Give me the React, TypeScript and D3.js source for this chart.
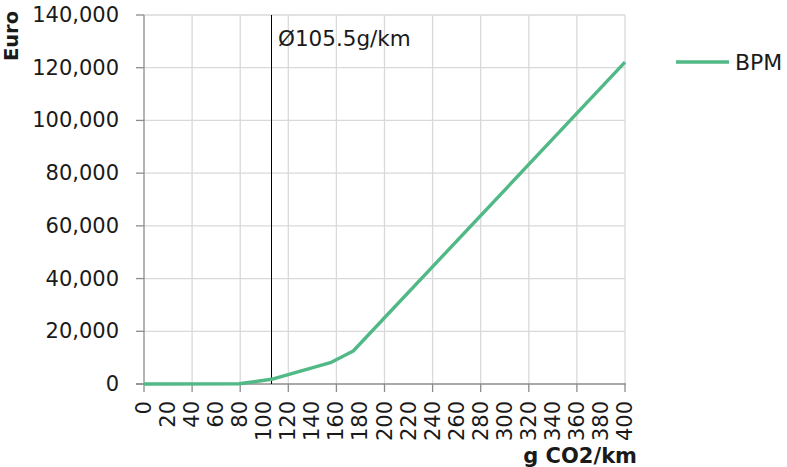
import React from "react";
import * as d3 from "d3";

const co2Values = [0, 79, 106, 155, 174, 400];
const bpmValues = [0, 79, 1780, 8100, 12510, 122100];
const xTickLabels = ["0","20","40","60","80","100","120","140","160","180","200","220","240","260","280","300","320","340","360","380","400"];
const xMajorTicks = [0, 40, 80, 120, 160, 200, 240, 280, 320, 360, 400];
const yTickValues = [0, 20000, 40000, 60000, 80000, 100000, 120000, 140000];
const averageCO2 = 105.5;
const averageLabel = "Ø105.5g/km";
const seriesName = "BPM";
const yTitle = "Euro";
const xTitle = "g CO2/km";

const W = 787;
const H = 467;
const FONT = "'DejaVu Sans', sans-serif";
const LINE = "#50B985";
const GRID = "#d9d9d9";
const AXIS = "#8c8c8c";
const TEXT = "#1a1a1a";

export default function App() {
  const x = d3.scaleLinear().domain([0, 400]).range([144, 625]);
  const y = d3.scaleLinear().domain([0, 140000]).range([384, 15]);
  const pts = co2Values.map((c, i) => [c, bpmValues[i]] as [number, number]);
  const line = d3.line<[number, number]>().x(d => x(d[0])).y(d => y(d[1]));
  const fmt = d3.format(",");
  const avgX = Math.round(x(averageCO2)) + 0.5;

  return (
    <svg width={W} height={H} style={{ position: "absolute", left: 0, top: 0, display: "block" }} fontFamily={FONT}>
      <rect width={W} height={H} fill="#fff" />
      {yTickValues.filter(v => v > 0).map(v => (
        <line key={"hg" + v} x1={x(0)} x2={x(400)} y1={y(v)} y2={y(v)} stroke={GRID} strokeWidth={1.3} />
      ))}
      {xMajorTicks.filter(v => v > 0).map(v => (
        <line key={"vg" + v} x1={x(v)} x2={x(v)} y1={y(140000)} y2={y(0)} stroke={GRID} strokeWidth={1.3} />
      ))}
      <line x1={x(0)} x2={x(0)} y1={y(140000)} y2={y(0)} stroke={AXIS} strokeWidth={1.3} />
      <line x1={x(0) - 8} x2={x(400) + 1} y1={y(0)} y2={y(0)} stroke={AXIS} strokeWidth={1.3} />
      {yTickValues.map(v => (
        <line key={"yt" + v} x1={x(0) - 8} x2={x(0)} y1={y(v)} y2={y(v)} stroke={AXIS} strokeWidth={1.3} />
      ))}
      {xMajorTicks.map(v => (
        <line key={"xt" + v} x1={x(v)} x2={x(v)} y1={y(0)} y2={y(0) + 8} stroke={AXIS} strokeWidth={1.3} />
      ))}
      {yTickValues.map(v => (
        <text key={"yl" + v} x={119} y={y(v)} textAnchor="end" dominantBaseline="central" fontSize={21} fill={TEXT}>
          {fmt(v)}
        </text>
      ))}
      {xTickLabels.map(l => {
        const px = x(+l);
        return (
          <text key={"xl" + l} transform={`translate(${px},401) rotate(-90)`} textAnchor="end" dominantBaseline="central" fontSize={21} fill={TEXT}>
            {l}
          </text>
        );
      })}
      <line x1={avgX} x2={avgX} y1={y(140000)} y2={y(0)} stroke="#000" strokeWidth={1} />
      <text x={278} y={46} fontSize={21.5} fill={TEXT}>{averageLabel}</text>
      <path d={line(pts) || ""} fill="none" stroke={LINE} strokeWidth={3.4} strokeLinejoin="round" />
      <line x1={676} x2={729} y1={62} y2={62} stroke={LINE} strokeWidth={3.4} />
      <text x={735} y={62} dominantBaseline="central" fontSize={22} fill={TEXT}>{seriesName}</text>
      <text transform="translate(11,36) rotate(-90)" textAnchor="middle" dominantBaseline="central" fontSize={19.5} fontWeight="bold" fill={TEXT}>
        {yTitle}
      </text>
      <text x={637} y={463} textAnchor="end" fontSize={21} fontWeight="bold" fill={TEXT}>{xTitle}</text>
    </svg>
  );
}
